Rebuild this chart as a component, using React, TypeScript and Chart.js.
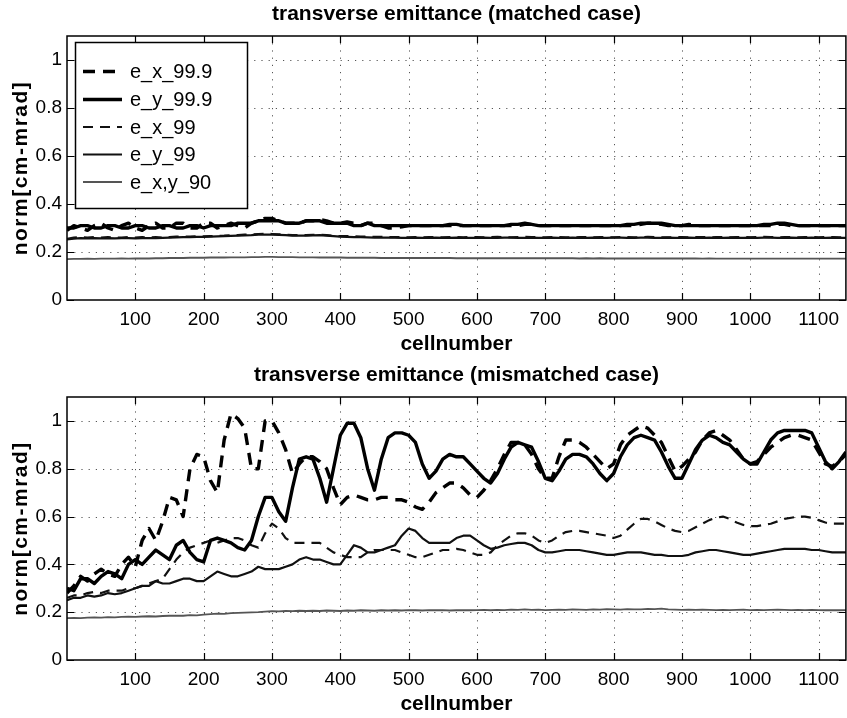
import React, { useEffect, useRef } from "react";
import { Chart, registerables } from "chart.js";

Chart.register(...registerables);

// ---------------- data ----------------
const cells: number[] = Array.from({ length: 115 }, (_, i) => i * 10); // 0..1140
const xTickValues = [100, 200, 300, 400, 500, 600, 700, 800, 900, 1000, 1100];
const yTickValues = [0, 0.2, 0.4, 0.6, 0.8, 1];
const seriesLabels = ["e_x_99.9", "e_y_99.9", "e_x_99", "e_y_99", "e_x,y_90"];

// matched case
const matchedEx999 = [
  0.29, 0.31, 0.30, 0.29, 0.31, 0.32, 0.30, 0.29, 0.31, 0.32, 0.30, 0.29,
  0.31, 0.32, 0.30, 0.30, 0.32, 0.32, 0.30, 0.30, 0.32, 0.32, 0.30, 0.31,
  0.32, 0.31, 0.30, 0.32, 0.33, 0.34, 0.34, 0.33, 0.32, 0.32, 0.32, 0.33,
  0.33, 0.335, 0.33, 0.32, 0.32, 0.325, 0.32, 0.31, 0.32, 0.32, 0.31, 0.30,
  0.30, 0.305, 0.31, 0.31, 0.31, 0.31, 0.31, 0.31, 0.31, 0.31, 0.31, 0.31,
  0.31, 0.31, 0.31, 0.31, 0.31, 0.31, 0.31, 0.315, 0.315, 0.31, 0.31, 0.31,
  0.31, 0.31, 0.31, 0.31, 0.31, 0.31, 0.31, 0.31, 0.31, 0.31, 0.31, 0.31,
  0.315, 0.32, 0.32, 0.315, 0.31, 0.31, 0.31, 0.315, 0.31, 0.31, 0.31, 0.31,
  0.31, 0.31, 0.31, 0.31, 0.31, 0.31, 0.31, 0.31, 0.315, 0.315, 0.31, 0.31,
  0.31, 0.31, 0.31, 0.31, 0.31, 0.31, 0.31,
];
const matchedEy999 = [
  0.30, 0.30, 0.31, 0.31, 0.30, 0.30, 0.31, 0.31, 0.30, 0.30, 0.31, 0.31,
  0.30, 0.30, 0.31, 0.31, 0.30, 0.30, 0.31, 0.31, 0.30, 0.31, 0.31, 0.31,
  0.31, 0.32, 0.32, 0.32, 0.33, 0.33, 0.33, 0.33, 0.32, 0.32, 0.32, 0.33,
  0.33, 0.33, 0.32, 0.32, 0.32, 0.32, 0.31, 0.31, 0.32, 0.31, 0.31, 0.31,
  0.31, 0.31, 0.31, 0.31, 0.31, 0.31, 0.31, 0.31, 0.315, 0.315, 0.31, 0.31,
  0.31, 0.31, 0.31, 0.31, 0.31, 0.315, 0.315, 0.32, 0.315, 0.31, 0.31, 0.31,
  0.31, 0.31, 0.31, 0.31, 0.31, 0.31, 0.31, 0.31, 0.31, 0.31, 0.315, 0.315,
  0.32, 0.32, 0.32, 0.32, 0.315, 0.31, 0.31, 0.31, 0.31, 0.31, 0.31, 0.31,
  0.31, 0.31, 0.31, 0.31, 0.31, 0.31, 0.315, 0.315, 0.32, 0.32, 0.315, 0.31,
  0.31, 0.31, 0.31, 0.31, 0.31, 0.31, 0.31,
];
const matchedEx99 = [
  0.255, 0.26, 0.262, 0.26, 0.262, 0.26, 0.262, 0.26, 0.26, 0.262, 0.26, 0.262,
  0.26, 0.262, 0.26, 0.262, 0.264, 0.265, 0.264, 0.266, 0.265, 0.266, 0.267, 0.268,
  0.27, 0.27, 0.272, 0.273, 0.275, 0.276, 0.275, 0.274, 0.272, 0.27, 0.27, 0.27,
  0.271, 0.272, 0.27, 0.268, 0.266, 0.266, 0.265, 0.264, 0.264, 0.263, 0.263, 0.262,
  0.262, 0.262, 0.261, 0.262, 0.261, 0.262, 0.262, 0.261, 0.262, 0.262, 0.261, 0.262,
  0.262, 0.261, 0.262, 0.263, 0.262, 0.261, 0.262, 0.263, 0.262, 0.262, 0.261, 0.262,
  0.262, 0.261, 0.261, 0.262, 0.262, 0.261, 0.262, 0.262, 0.261, 0.262, 0.262, 0.261,
  0.262, 0.263, 0.262, 0.261, 0.261, 0.262, 0.262, 0.261, 0.262, 0.262, 0.261, 0.262,
  0.262, 0.261, 0.262, 0.262, 0.261, 0.262, 0.263, 0.262, 0.261, 0.262, 0.262, 0.261,
  0.262, 0.262, 0.261, 0.262, 0.262, 0.261, 0.262,
];
const matchedEy99 = [
  0.252, 0.256, 0.258, 0.257, 0.258, 0.257, 0.258, 0.257, 0.258, 0.258, 0.257, 0.258,
  0.258, 0.258, 0.259, 0.26, 0.261, 0.262, 0.262, 0.263, 0.263, 0.264, 0.265, 0.266,
  0.267, 0.268, 0.269, 0.27, 0.272, 0.273, 0.272, 0.271, 0.27, 0.268, 0.268, 0.268,
  0.269, 0.27, 0.268, 0.266, 0.264, 0.263, 0.262, 0.262, 0.261, 0.26, 0.26, 0.26,
  0.26, 0.259, 0.259, 0.26, 0.259, 0.259, 0.26, 0.259, 0.259, 0.26, 0.259, 0.259,
  0.259, 0.26, 0.259, 0.259, 0.26, 0.26, 0.259, 0.259, 0.26, 0.259, 0.259, 0.26,
  0.259, 0.259, 0.26, 0.259, 0.259, 0.26, 0.259, 0.259, 0.26, 0.26, 0.259, 0.259,
  0.26, 0.26, 0.259, 0.259, 0.26, 0.259, 0.259, 0.26, 0.259, 0.259, 0.26, 0.259,
  0.259, 0.26, 0.259, 0.259, 0.26, 0.259, 0.26, 0.26, 0.259, 0.259, 0.26, 0.259,
  0.259, 0.26, 0.259, 0.259, 0.26, 0.259, 0.259,
];
const matchedExy90 = [
  0.170, 0.171, 0.171, 0.172, 0.171, 0.172, 0.172, 0.172, 0.173, 0.172, 0.173, 0.173,
  0.173, 0.174, 0.174, 0.175, 0.175, 0.175, 0.176, 0.176, 0.176, 0.177, 0.177, 0.177,
  0.178, 0.178, 0.178, 0.179, 0.179, 0.180, 0.180, 0.179, 0.179, 0.179, 0.178, 0.178,
  0.178, 0.177, 0.177, 0.177, 0.177, 0.176, 0.176, 0.176, 0.176, 0.176, 0.175, 0.175,
  0.175, 0.175, 0.175, 0.175, 0.175, 0.175, 0.175, 0.175, 0.175, 0.174, 0.174, 0.174,
  0.174, 0.174, 0.174, 0.174, 0.174, 0.174, 0.174, 0.174, 0.174, 0.174, 0.174, 0.174,
  0.174, 0.174, 0.174, 0.173, 0.174, 0.173, 0.174, 0.173, 0.173, 0.173, 0.173, 0.173,
  0.173, 0.173, 0.173, 0.173, 0.173, 0.173, 0.173, 0.173, 0.173, 0.172, 0.173, 0.172,
  0.172, 0.172, 0.172, 0.172, 0.172, 0.172, 0.172, 0.172, 0.172, 0.172, 0.172, 0.172,
  0.172, 0.172, 0.172, 0.172, 0.172, 0.172, 0.172,
];

// mismatched case
const mismatchedEx999 = [
  0.28, 0.31, 0.35, 0.33, 0.36, 0.38, 0.36, 0.35, 0.40, 0.43, 0.39, 0.50,
  0.55, 0.50, 0.58, 0.68, 0.67, 0.60, 0.80, 0.86, 0.85, 0.75, 0.70, 0.92,
  1.03, 1.01, 0.97, 0.80, 0.80, 1.00, 1.00, 0.95, 0.88, 0.78, 0.82, 0.85,
  0.85, 0.83, 0.80, 0.72, 0.65, 0.68, 0.69, 0.68, 0.67, 0.67, 0.68, 0.68,
  0.67, 0.67, 0.66, 0.64, 0.63, 0.66, 0.70, 0.72, 0.74, 0.74, 0.72, 0.69,
  0.68, 0.71, 0.75, 0.80, 0.86, 0.91, 0.91, 0.90, 0.86, 0.80, 0.76, 0.76,
  0.85, 0.92, 0.92, 0.91, 0.89, 0.86, 0.83, 0.80, 0.82, 0.90, 0.94, 0.96,
  0.98, 0.97, 0.94, 0.91, 0.85, 0.79, 0.81, 0.84, 0.87, 0.92, 0.95, 0.96,
  0.94, 0.92, 0.88, 0.84, 0.82, 0.83, 0.86, 0.89, 0.91, 0.93, 0.94, 0.94,
  0.93, 0.92, 0.87, 0.82, 0.81, 0.83, 0.86,
];
const mismatchedEy999 = [
  0.30, 0.29, 0.34, 0.34, 0.32, 0.35, 0.37, 0.36, 0.34, 0.40, 0.42, 0.40,
  0.43, 0.46, 0.44, 0.42, 0.48, 0.50, 0.45, 0.42, 0.41, 0.50, 0.51, 0.50,
  0.49, 0.47, 0.46, 0.50, 0.60, 0.68, 0.68, 0.62, 0.58, 0.72, 0.84, 0.85,
  0.84, 0.76, 0.66, 0.80, 0.94, 0.99, 0.99, 0.93, 0.80, 0.71, 0.84, 0.93,
  0.95, 0.95, 0.94, 0.91, 0.82, 0.76, 0.79, 0.84, 0.86, 0.85, 0.85, 0.82,
  0.79, 0.76, 0.74, 0.78, 0.84, 0.89, 0.91, 0.90, 0.89, 0.83, 0.76, 0.75,
  0.79, 0.84, 0.86, 0.86, 0.85, 0.82, 0.78, 0.75, 0.78, 0.85, 0.90, 0.93,
  0.94, 0.93, 0.92, 0.87, 0.81, 0.76, 0.76, 0.82, 0.88, 0.92, 0.94, 0.93,
  0.91, 0.90, 0.87, 0.84, 0.82, 0.82, 0.87, 0.92, 0.95, 0.96, 0.96, 0.96,
  0.96, 0.95, 0.89, 0.83, 0.80, 0.83, 0.87,
];
const mismatchedEx99 = [
  0.26, 0.27, 0.27, 0.28, 0.285, 0.28, 0.29, 0.29, 0.29, 0.30, 0.30, 0.31,
  0.32, 0.33, 0.34, 0.38, 0.42, 0.45, 0.47, 0.48, 0.49, 0.50, 0.49, 0.50,
  0.51, 0.51, 0.50, 0.48, 0.47, 0.53, 0.57, 0.55, 0.51, 0.49, 0.49, 0.49,
  0.49, 0.49, 0.47, 0.45, 0.44, 0.43, 0.43, 0.43, 0.45, 0.46, 0.46, 0.46,
  0.46, 0.45, 0.44, 0.43, 0.43, 0.44, 0.45, 0.46, 0.46, 0.465, 0.46, 0.45,
  0.44, 0.44, 0.45, 0.48, 0.50, 0.52, 0.53, 0.53, 0.52, 0.50, 0.49, 0.50,
  0.52, 0.535, 0.54, 0.54, 0.535, 0.53, 0.525, 0.52, 0.51, 0.52, 0.545, 0.57,
  0.59, 0.59, 0.58, 0.565, 0.55, 0.54, 0.535, 0.54, 0.555, 0.57, 0.585, 0.595,
  0.60, 0.59, 0.575, 0.565, 0.56, 0.56, 0.565, 0.57, 0.58, 0.59, 0.595, 0.60,
  0.60, 0.595, 0.585, 0.575, 0.57, 0.57, 0.57,
];
const mismatchedEy99 = [
  0.25, 0.26, 0.26, 0.27, 0.265, 0.27, 0.28, 0.275, 0.28, 0.29, 0.30, 0.31,
  0.31, 0.33, 0.32, 0.32, 0.33, 0.34, 0.34, 0.33, 0.33, 0.35, 0.37, 0.36,
  0.35, 0.35, 0.36, 0.37, 0.39, 0.38, 0.38, 0.38, 0.39, 0.40, 0.42, 0.43,
  0.42, 0.42, 0.41, 0.40, 0.40, 0.44, 0.48, 0.47, 0.45, 0.45, 0.46, 0.47,
  0.48, 0.52, 0.55, 0.54, 0.51, 0.49, 0.49, 0.49, 0.49, 0.51, 0.52, 0.52,
  0.50, 0.48, 0.465, 0.47, 0.48, 0.485, 0.49, 0.49, 0.48, 0.46, 0.45, 0.45,
  0.455, 0.46, 0.46, 0.46, 0.455, 0.45, 0.445, 0.44, 0.44, 0.445, 0.45, 0.45,
  0.45, 0.445, 0.44, 0.44, 0.435, 0.435, 0.435, 0.44, 0.45, 0.455, 0.46, 0.46,
  0.455, 0.45, 0.445, 0.44, 0.44, 0.445, 0.45, 0.455, 0.46, 0.465, 0.465, 0.465,
  0.465, 0.46, 0.46, 0.455, 0.45, 0.45, 0.45,
];
const mismatchedExy90 = [
  0.175, 0.176, 0.175, 0.177, 0.178, 0.177, 0.179, 0.178, 0.180, 0.181, 0.180, 0.182,
  0.183, 0.182, 0.184, 0.185, 0.186, 0.185, 0.188, 0.187, 0.190, 0.192, 0.194, 0.193,
  0.196, 0.197, 0.198, 0.199, 0.200, 0.202, 0.204, 0.203, 0.205, 0.204, 0.206, 0.205,
  0.206, 0.205, 0.207, 0.206, 0.205, 0.207, 0.206, 0.208, 0.207, 0.206, 0.208, 0.207,
  0.208, 0.207, 0.209, 0.208, 0.207, 0.209, 0.208, 0.209, 0.207, 0.208, 0.209, 0.208,
  0.209, 0.210, 0.208, 0.210, 0.209, 0.211, 0.210, 0.212, 0.210, 0.211, 0.209, 0.210,
  0.211, 0.210, 0.212, 0.211, 0.210, 0.212, 0.211, 0.213, 0.212, 0.211, 0.213, 0.212,
  0.212, 0.214, 0.213, 0.215, 0.212, 0.211, 0.210, 0.211, 0.210, 0.211, 0.210, 0.209,
  0.210, 0.209, 0.210, 0.211, 0.209, 0.210, 0.209, 0.210, 0.211, 0.210, 0.209, 0.210,
  0.209, 0.210, 0.209, 0.208, 0.209, 0.208, 0.209,
];

// ---------------- styling ----------------
const FONT = '"Liberation Sans", Arial, Helvetica, sans-serif';
const W = 847;
const H = 359;

const lineStyles = [
  { borderColor: "#000", borderWidth: 3.4, borderDash: [12, 8] },
  { borderColor: "#000", borderWidth: 3.4, borderDash: [] as number[] },
  { borderColor: "#111", borderWidth: 2.2, borderDash: [10, 7] },
  { borderColor: "#111", borderWidth: 2.2, borderDash: [] as number[] },
  { borderColor: "#555", borderWidth: 1.8, borderDash: [] as number[] },
];

function buildDatasets(values: number[][]) {
  return values.map((vals, i) => ({
    label: seriesLabels[i],
    data: cells.map((c, j) => ({ x: c, y: vals[j] })),
    borderColor: lineStyles[i].borderColor,
    borderWidth: lineStyles[i].borderWidth,
    borderDash: lineStyles[i].borderDash,
    pointRadius: 0,
    fill: false,
    tension: 0,
    borderJoinStyle: "round" as const,
  }));
}

function framePlugin(title: string, showLegend: boolean, titleY: number, xTitleY: number) {
  return {
    id: "matlabFrame",
    beforeDatasetsDraw(chart: any) {
      const { ctx, chartArea: a, scales } = chart;
      const x = scales.x;
      const y = scales.y;
      ctx.save();
      ctx.strokeStyle = "#555";
      ctx.lineWidth = 1;
      ctx.setLineDash([1.2, 6]);
      for (const v of xTickValues) {
        const px = Math.round(x.getPixelForValue(v)) + 0.5;
        ctx.beginPath();
        ctx.moveTo(px, a.top);
        ctx.lineTo(px, a.bottom);
        ctx.stroke();
      }
      for (const v of yTickValues) {
        if (v === 0) continue;
        const py = Math.round(y.getPixelForValue(v)) + 0.5;
        ctx.beginPath();
        ctx.moveTo(a.left, py);
        ctx.lineTo(a.right, py);
        ctx.stroke();
      }
      ctx.restore();
    },
    afterDraw(chart: any) {
      const { ctx, chartArea: a, scales } = chart;
      const x = scales.x;
      const y = scales.y;
      ctx.save();
      ctx.setLineDash([]);
      ctx.strokeStyle = "#000";
      ctx.lineWidth = 1.5;
      ctx.strokeRect(a.left, a.top, a.right - a.left, a.bottom - a.top);
      // inward ticks
      ctx.lineWidth = 1.2;
      const tl = 7;
      for (const v of xTickValues) {
        const px = Math.round(x.getPixelForValue(v)) + 0.5;
        ctx.beginPath();
        ctx.moveTo(px, a.bottom);
        ctx.lineTo(px, a.bottom - tl);
        ctx.moveTo(px, a.top);
        ctx.lineTo(px, a.top + tl);
        ctx.stroke();
      }
      for (const v of yTickValues) {
        const py = Math.round(y.getPixelForValue(v)) + 0.5;
        ctx.beginPath();
        ctx.moveTo(a.left, py);
        ctx.lineTo(a.left + tl, py);
        ctx.moveTo(a.right, py);
        ctx.lineTo(a.right - tl, py);
        ctx.stroke();
      }
      // titles
      const cx = (a.left + a.right) / 2;
      ctx.fillStyle = "#000";
      ctx.textAlign = "center";
      ctx.textBaseline = "middle";
      ctx.font = `bold 21px ${FONT}`;
      ctx.fillText(title, cx, titleY);
      ctx.fillText("cellnumber", cx, xTitleY);
      ctx.save();
      ctx.translate(21, (a.top + a.bottom) / 2);
      ctx.rotate(-Math.PI / 2);
      ctx.font = `bold 21px ${FONT}`;
      try { (ctx as any).letterSpacing = "1.5px"; } catch (e) {}
      ctx.fillText("norm[cm-mrad]", 0, 0);
      ctx.restore();
      // legend
      if (showLegend) {
        const lx = 75, ly = 42, lw = 172, lh = 166;
        ctx.fillStyle = "#fff";
        ctx.fillRect(lx, ly, lw, lh);
        ctx.strokeStyle = "#000";
        ctx.lineWidth = 1.5;
        ctx.strokeRect(lx + 0.5, ly + 0.5, lw, lh);
        const rows = [71.5, 99.5, 127, 154.5, 182];
        chart.data.datasets.forEach((ds: any, i: number) => {
          const yy = rows[i];
          ctx.strokeStyle = ds.borderColor;
          ctx.lineWidth = ds.borderWidth;
          ctx.setLineDash(ds.borderDash || []);
          ctx.beginPath();
          ctx.moveTo(83, yy);
          ctx.lineTo(122, yy);
          ctx.stroke();
          ctx.setLineDash([]);
          ctx.fillStyle = "#000";
          ctx.font = `20px ${FONT}`;
          ctx.textAlign = "left";
          ctx.textBaseline = "middle";
          ctx.fillText(ds.label, 130, yy + 1);
        });
      }
      ctx.restore();
    },
  };
}

type PanelProps = {
  title: string;
  values: number[][];
  showLegend: boolean;
  padTop: number;
  axisBottom: number;
  titleY: number;
  xTitleY: number;
};

function Panel({ title, values, showLegend, padTop, axisBottom, titleY, xTitleY }: PanelProps) {
  const ref = useRef<HTMLCanvasElement>(null);
  useEffect(() => {
    if (!ref.current) return;
    const chart = new Chart(ref.current, {
      type: "line",
      data: { datasets: buildDatasets(values) as any },
      options: {
        animation: false,
        responsive: false,
        devicePixelRatio: 1,
        layout: { padding: { top: padTop, left: 0, right: 0, bottom: 0 } },
        plugins: {
          legend: { display: false },
          title: { display: false },
          tooltip: { enabled: false },
        },
        scales: {
          x: {
            type: "linear",
            min: 0,
            max: 1140,
            grid: { display: false, drawTicks: false },
            border: { display: false },
            afterBuildTicks: (scale: any) => {
              scale.ticks = xTickValues.map((v) => ({ value: v }));
            },
            afterFit: (scale: any) => {
              scale.height = H - axisBottom;
            },
            ticks: {
              autoSkip: false,
              maxRotation: 0,
              padding: 8,
              color: "#000",
              font: { family: FONT, size: 19 },
              callback: (v: any) => String(v),
            },
          },
          y: {
            type: "linear",
            min: 0,
            max: 1.1,
            grid: { display: false, drawTicks: false },
            border: { display: false },
            afterBuildTicks: (scale: any) => {
              scale.ticks = yTickValues.map((v) => ({ value: v }));
            },
            afterFit: (scale: any) => {
              scale.width = 67;
            },
            ticks: {
              padding: 5,
              color: "#000",
              font: { family: FONT, size: 19 },
              callback: (v: any) => String(v),
            },
          },
        },
      } as any,
      plugins: [framePlugin(title, showLegend, titleY, xTitleY)],
    });
    return () => chart.destroy();
  }, []);
  return <canvas ref={ref} width={W} height={H} style={{ display: "block", width: W, height: H }} />;
}

export default function App() {
  return (
    <div style={{ position: "fixed", left: 0, top: 0, width: W, height: 2 * H, background: "#fff", overflow: "hidden" }}>
      <Panel
        title="transverse emittance (matched case)"
        values={[matchedEx999, matchedEy999, matchedEx99, matchedEy99, matchedExy90]}
        showLegend={true}
        padTop={36}
        axisBottom={300}
        titleY={14}
        xTitleY={344}
      />
      <Panel
        title="transverse emittance (mismatched case)"
        values={[mismatchedEx999, mismatchedEy999, mismatchedEx99, mismatchedEy99, mismatchedExy90]}
        showLegend={false}
        padTop={38}
        axisBottom={301}
        titleY={16}
        xTitleY={345}
      />
    </div>
  );
}
